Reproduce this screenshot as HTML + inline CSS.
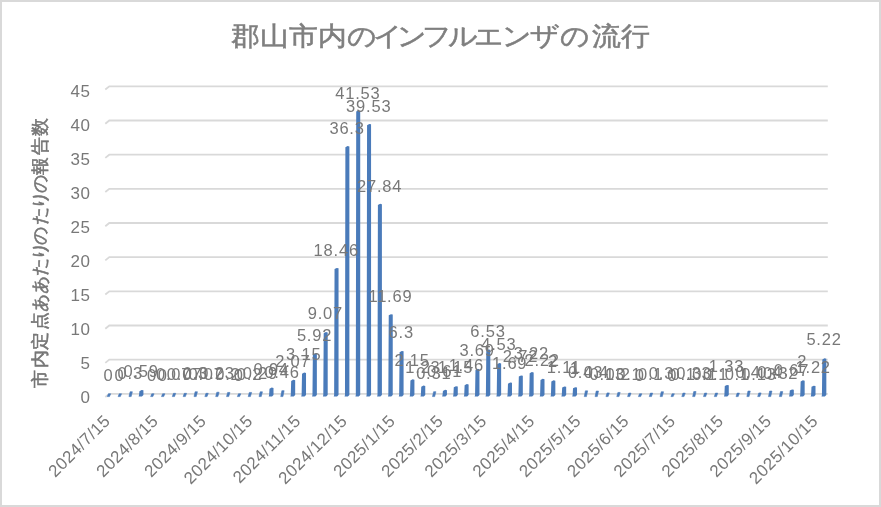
<!DOCTYPE html>
<html lang="ja"><head><meta charset="utf-8">
<style>
html,body{margin:0;padding:0;background:#fff;}
body{width:881px;height:507px;overflow:hidden;position:relative;font-family:"Liberation Sans",sans-serif;}
.frame{position:absolute;left:0;top:0;width:881px;height:507px;box-sizing:border-box;border:2px solid #d9d9d9;background:#fff;}
svg{position:absolute;left:0;top:0;will-change:transform;filter:blur(0.35px);}
.xl{font-family:"Liberation Sans",sans-serif;font-size:17px;fill:#787878;letter-spacing:0.4px;}
.ax{font-family:"Liberation Sans",sans-serif;font-size:17px;fill:#787878;letter-spacing:0.6px;}
.dl{font-family:"Liberation Sans",sans-serif;font-size:16.5px;fill:#787878;letter-spacing:0.8px;}
.title{font-family:"Liberation Sans",sans-serif;font-size:28.8px;fill:#7f7f7f;stroke:#7f7f7f;stroke-width:0.6px;}
.ytitle{font-family:"Liberation Sans",sans-serif;font-size:17.7px;fill:#787878;stroke:#707070;stroke-width:0.5px;}
</style></head>
<body><div class="frame"></div>
<svg width="881" height="507" viewBox="0 0 881 507">
<g transform="translate(0 45.00) scale(1 0.900)"><text x="245.4" y="0" text-anchor="middle" class="title">郡</text><text x="274.3" y="0" text-anchor="middle" class="title">山</text><text x="303.4" y="0" text-anchor="middle" class="title">市</text><text x="332.2" y="0" text-anchor="middle" class="title">内</text><text x="361.4" y="0" text-anchor="middle" class="title">の</text><text x="388.1" y="0" text-anchor="middle" class="title">イ</text><text x="411.7" y="0" text-anchor="middle" class="title">ン</text><text x="436.8" y="0" text-anchor="middle" class="title">フ</text><text x="462.6" y="0" text-anchor="middle" class="title">ル</text><text x="488.9" y="0" text-anchor="middle" class="title">エ</text><text x="516.4" y="0" text-anchor="middle" class="title">ン</text><text x="545" y="0" text-anchor="middle" class="title">ザ</text><text x="575.1" y="0" text-anchor="middle" class="title">の</text><text x="605.9" y="0" text-anchor="middle" class="title">流</text><text x="635" y="0" text-anchor="middle" class="title">行</text></g>
<text transform="translate(46 379) rotate(-90)" text-anchor="middle" class="ytitle">市</text><text transform="translate(46 359.3) rotate(-90)" text-anchor="middle" class="ytitle">内</text><text transform="translate(46 340.8) rotate(-90)" text-anchor="middle" class="ytitle">定</text><text transform="translate(46 321.3) rotate(-90)" text-anchor="middle" class="ytitle">点</text><text transform="translate(46 302.6) rotate(-90)" text-anchor="middle" class="ytitle">あ</text><text transform="translate(46 285) rotate(-90)" text-anchor="middle" class="ytitle">あ</text><text transform="translate(46 266.8) rotate(-90)" text-anchor="middle" class="ytitle">た</text><text transform="translate(46 250.9) rotate(-90)" text-anchor="middle" class="ytitle">り</text><text transform="translate(46 235.5) rotate(-90)" text-anchor="middle" class="ytitle">の</text><text transform="translate(46 215.8) rotate(-90)" text-anchor="middle" class="ytitle">た</text><text transform="translate(46 199.6) rotate(-90)" text-anchor="middle" class="ytitle">り</text><text transform="translate(46 183.9) rotate(-90)" text-anchor="middle" class="ytitle">の</text><text transform="translate(46 165.5) rotate(-90)" text-anchor="middle" class="ytitle">報</text><text transform="translate(46 146.2) rotate(-90)" text-anchor="middle" class="ytitle">告</text><text transform="translate(46 127.2) rotate(-90)" text-anchor="middle" class="ytitle">数</text>
<path d="M105.3 397.00 L109.3 393.80 L827.8 393.80" fill="none" stroke="#d9d9d9" stroke-width="1.8"/>
<path d="M105.3 362.84 L109.3 359.64 L827.8 359.64" fill="none" stroke="#d9d9d9" stroke-width="1.8"/>
<path d="M105.3 328.68 L109.3 325.48 L827.8 325.48" fill="none" stroke="#d9d9d9" stroke-width="1.8"/>
<path d="M105.3 294.52 L109.3 291.32 L827.8 291.32" fill="none" stroke="#d9d9d9" stroke-width="1.8"/>
<path d="M105.3 260.36 L109.3 257.16 L827.8 257.16" fill="none" stroke="#d9d9d9" stroke-width="1.8"/>
<path d="M105.3 226.20 L109.3 223.00 L827.8 223.00" fill="none" stroke="#d9d9d9" stroke-width="1.8"/>
<path d="M105.3 192.04 L109.3 188.84 L827.8 188.84" fill="none" stroke="#d9d9d9" stroke-width="1.8"/>
<path d="M105.3 157.88 L109.3 154.68 L827.8 154.68" fill="none" stroke="#d9d9d9" stroke-width="1.8"/>
<path d="M105.3 123.72 L109.3 120.52 L827.8 120.52" fill="none" stroke="#d9d9d9" stroke-width="1.8"/>
<path d="M105.3 89.56 L109.3 86.36 L827.8 86.36" fill="none" stroke="#d9d9d9" stroke-width="1.8"/>
<text x="90.6" y="403.00" text-anchor="end" class="ax">0</text>
<text x="90.6" y="369.00" text-anchor="end" class="ax">5</text>
<text x="90.6" y="335.00" text-anchor="end" class="ax">10</text>
<text x="90.6" y="301.00" text-anchor="end" class="ax">15</text>
<text x="90.6" y="267.00" text-anchor="end" class="ax">20</text>
<text x="90.6" y="233.00" text-anchor="end" class="ax">25</text>
<text x="90.6" y="199.00" text-anchor="end" class="ax">30</text>
<text x="90.6" y="165.00" text-anchor="end" class="ax">35</text>
<text x="90.6" y="131.00" text-anchor="end" class="ax">40</text>
<text x="90.6" y="97.00" text-anchor="end" class="ax">45</text>
<path d="M108.40 393.80 L110.70 393.80 L109.50 396.6 L107.30 396.6 Z" fill="#4a7bba" stroke="#4a7bba" stroke-width="0.6" stroke-linejoin="round"/>
<path d="M119.24 393.80 L121.54 393.80 L120.34 396.6 L118.14 396.6 Z" fill="#4a7bba" stroke="#4a7bba" stroke-width="0.6" stroke-linejoin="round"/>
<path d="M130.08 391.75 L132.38 391.75 L131.18 396.6 L128.98 396.6 Z" fill="#4a7bba" stroke="#4a7bba" stroke-width="0.6" stroke-linejoin="round"/>
<path d="M139.42 391.17 L141.62 389.97 L143.42 390.37 L143.42 395.10 L141.92 396.60 L138.62 396.60 L139.02 395.10 Z" fill="#4a7bba"/>
<path d="M151.76 393.80 L154.06 393.80 L152.86 396.6 L150.66 396.6 Z" fill="#4a7bba" stroke="#4a7bba" stroke-width="0.6" stroke-linejoin="round"/>
<path d="M162.60 393.80 L164.90 393.80 L163.70 396.6 L161.50 396.6 Z" fill="#4a7bba" stroke="#4a7bba" stroke-width="0.6" stroke-linejoin="round"/>
<path d="M173.44 393.32 L175.74 393.32 L174.54 396.6 L172.34 396.6 Z" fill="#4a7bba" stroke="#4a7bba" stroke-width="0.6" stroke-linejoin="round"/>
<path d="M184.28 393.32 L186.58 393.32 L185.38 396.6 L183.18 396.6 Z" fill="#4a7bba" stroke="#4a7bba" stroke-width="0.6" stroke-linejoin="round"/>
<path d="M195.12 391.75 L197.42 391.75 L196.22 396.6 L194.02 396.6 Z" fill="#4a7bba" stroke="#4a7bba" stroke-width="0.6" stroke-linejoin="round"/>
<path d="M205.96 393.32 L208.26 393.32 L207.06 396.6 L204.86 396.6 Z" fill="#4a7bba" stroke="#4a7bba" stroke-width="0.6" stroke-linejoin="round"/>
<path d="M216.80 392.23 L219.10 392.23 L217.90 396.6 L215.70 396.6 Z" fill="#4a7bba" stroke="#4a7bba" stroke-width="0.6" stroke-linejoin="round"/>
<path d="M227.64 392.43 L229.94 392.43 L228.74 396.6 L226.54 396.6 Z" fill="#4a7bba" stroke="#4a7bba" stroke-width="0.6" stroke-linejoin="round"/>
<path d="M238.48 393.80 L240.78 393.80 L239.58 396.6 L237.38 396.6 Z" fill="#4a7bba" stroke="#4a7bba" stroke-width="0.6" stroke-linejoin="round"/>
<path d="M249.32 392.43 L251.62 392.43 L250.42 396.6 L248.22 396.6 Z" fill="#4a7bba" stroke="#4a7bba" stroke-width="0.6" stroke-linejoin="round"/>
<path d="M260.16 391.82 L262.46 391.82 L261.26 396.6 L259.06 396.6 Z" fill="#4a7bba" stroke="#4a7bba" stroke-width="0.6" stroke-linejoin="round"/>
<path d="M269.50 388.78 L271.70 387.58 L273.50 387.98 L273.50 395.10 L272.00 396.60 L268.70 396.60 L269.10 395.10 Z" fill="#4a7bba"/>
<path d="M281.84 390.66 L284.14 390.66 L282.94 396.6 L280.74 396.6 Z" fill="#4a7bba" stroke="#4a7bba" stroke-width="0.6" stroke-linejoin="round"/>
<path d="M291.18 381.06 L293.38 379.86 L295.18 380.26 L295.18 395.10 L293.68 396.60 L290.38 396.60 L290.78 395.10 Z" fill="#4a7bba"/>
<path d="M302.02 373.68 L304.22 372.48 L306.02 372.88 L306.02 395.10 L304.52 396.60 L301.22 396.60 L301.62 395.10 Z" fill="#4a7bba"/>
<path d="M312.86 354.75 L315.06 353.55 L316.86 353.95 L316.86 395.10 L315.36 396.60 L312.06 396.60 L312.46 395.10 Z" fill="#4a7bba"/>
<path d="M323.70 333.23 L325.90 332.03 L327.70 332.43 L327.70 395.10 L326.20 396.60 L322.90 396.60 L323.30 395.10 Z" fill="#4a7bba"/>
<path d="M334.54 269.08 L336.74 267.88 L338.54 268.28 L338.54 395.10 L337.04 396.60 L333.74 396.60 L334.14 395.10 Z" fill="#4a7bba"/>
<path d="M345.38 147.20 L347.58 146.00 L349.38 146.40 L349.38 395.10 L347.88 396.60 L344.58 396.60 L344.98 395.10 Z" fill="#4a7bba"/>
<path d="M356.22 111.47 L358.42 110.27 L360.22 110.67 L360.22 395.10 L358.72 396.60 L355.42 396.60 L355.82 395.10 Z" fill="#4a7bba"/>
<path d="M367.06 125.13 L369.26 123.93 L371.06 124.33 L371.06 395.10 L369.56 396.60 L366.26 396.60 L366.66 395.10 Z" fill="#4a7bba"/>
<path d="M377.90 205.00 L380.10 203.80 L381.90 204.20 L381.90 395.10 L380.40 396.60 L377.10 396.60 L377.50 395.10 Z" fill="#4a7bba"/>
<path d="M388.74 315.33 L390.94 314.13 L392.74 314.53 L392.74 395.10 L391.24 396.60 L387.94 396.60 L388.34 395.10 Z" fill="#4a7bba"/>
<path d="M399.58 352.16 L401.78 350.96 L403.58 351.36 L403.58 395.10 L402.08 396.60 L398.78 396.60 L399.18 395.10 Z" fill="#4a7bba"/>
<path d="M410.42 380.51 L412.62 379.31 L414.42 379.71 L414.42 395.10 L412.92 396.60 L409.62 396.60 L410.02 395.10 Z" fill="#4a7bba"/>
<path d="M421.26 386.80 L423.46 385.60 L425.26 386.00 L425.26 395.10 L423.76 396.60 L420.46 396.60 L420.86 395.10 Z" fill="#4a7bba"/>
<path d="M433.60 391.68 L435.90 391.68 L434.70 396.6 L432.50 396.6 Z" fill="#4a7bba" stroke="#4a7bba" stroke-width="0.6" stroke-linejoin="round"/>
<path d="M442.94 391.03 L445.14 389.83 L446.94 390.23 L446.94 395.10 L445.44 396.60 L442.14 396.60 L442.54 395.10 Z" fill="#4a7bba"/>
<path d="M453.78 387.34 L455.98 386.14 L457.78 386.54 L457.78 395.10 L456.28 396.60 L452.98 396.60 L453.38 395.10 Z" fill="#4a7bba"/>
<path d="M464.62 385.23 L466.82 384.03 L468.62 384.43 L468.62 395.10 L467.12 396.60 L463.82 396.60 L464.22 395.10 Z" fill="#4a7bba"/>
<path d="M475.46 369.99 L477.66 368.79 L479.46 369.19 L479.46 395.10 L477.96 396.60 L474.66 396.60 L475.06 395.10 Z" fill="#4a7bba"/>
<path d="M486.30 350.59 L488.50 349.39 L490.30 349.79 L490.30 395.10 L488.80 396.60 L485.50 396.60 L485.90 395.10 Z" fill="#4a7bba"/>
<path d="M497.14 364.25 L499.34 363.05 L501.14 363.45 L501.14 395.10 L499.64 396.60 L496.34 396.60 L496.74 395.10 Z" fill="#4a7bba"/>
<path d="M507.98 383.65 L510.18 382.45 L511.98 382.85 L511.98 395.10 L510.48 396.60 L507.18 396.60 L507.58 395.10 Z" fill="#4a7bba"/>
<path d="M518.82 376.62 L521.02 375.42 L522.82 375.82 L522.82 395.10 L521.32 396.60 L518.02 396.60 L518.42 395.10 Z" fill="#4a7bba"/>
<path d="M529.66 373.20 L531.86 372.00 L533.66 372.40 L533.66 395.10 L532.16 396.60 L528.86 396.60 L529.26 395.10 Z" fill="#4a7bba"/>
<path d="M540.50 380.03 L542.70 378.83 L544.50 379.23 L544.50 395.10 L543.00 396.60 L539.70 396.60 L540.10 395.10 Z" fill="#4a7bba"/>
<path d="M551.34 381.54 L553.54 380.34 L555.34 380.74 L555.34 395.10 L553.84 396.60 L550.54 396.60 L550.94 395.10 Z" fill="#4a7bba"/>
<path d="M562.18 387.62 L564.38 386.42 L566.18 386.82 L566.18 395.10 L564.68 396.60 L561.38 396.60 L561.78 395.10 Z" fill="#4a7bba"/>
<path d="M573.02 388.37 L575.22 387.17 L577.02 387.57 L577.02 395.10 L575.52 396.60 L572.22 396.60 L572.62 395.10 Z" fill="#4a7bba"/>
<path d="M585.36 390.86 L587.66 390.86 L586.46 396.6 L584.26 396.6 Z" fill="#4a7bba" stroke="#4a7bba" stroke-width="0.6" stroke-linejoin="round"/>
<path d="M596.20 391.07 L598.50 391.07 L597.30 396.6 L595.10 396.6 Z" fill="#4a7bba" stroke="#4a7bba" stroke-width="0.6" stroke-linejoin="round"/>
<path d="M607.04 392.91 L609.34 392.91 L608.14 396.6 L605.94 396.6 Z" fill="#4a7bba" stroke="#4a7bba" stroke-width="0.6" stroke-linejoin="round"/>
<path d="M617.88 392.43 L620.18 392.43 L618.98 396.6 L616.78 396.6 Z" fill="#4a7bba" stroke="#4a7bba" stroke-width="0.6" stroke-linejoin="round"/>
<path d="M628.72 393.12 L631.02 393.12 L629.82 396.6 L627.62 396.6 Z" fill="#4a7bba" stroke="#4a7bba" stroke-width="0.6" stroke-linejoin="round"/>
<path d="M639.56 393.80 L641.86 393.80 L640.66 396.6 L638.46 396.6 Z" fill="#4a7bba" stroke="#4a7bba" stroke-width="0.6" stroke-linejoin="round"/>
<path d="M650.40 393.12 L652.70 393.12 L651.50 396.6 L649.30 396.6 Z" fill="#4a7bba" stroke="#4a7bba" stroke-width="0.6" stroke-linejoin="round"/>
<path d="M661.24 391.75 L663.54 391.75 L662.34 396.6 L660.14 396.6 Z" fill="#4a7bba" stroke="#4a7bba" stroke-width="0.6" stroke-linejoin="round"/>
<path d="M672.08 393.80 L674.38 393.80 L673.18 396.6 L670.98 396.6 Z" fill="#4a7bba" stroke="#4a7bba" stroke-width="0.6" stroke-linejoin="round"/>
<path d="M682.92 393.12 L685.22 393.12 L684.02 396.6 L681.82 396.6 Z" fill="#4a7bba" stroke="#4a7bba" stroke-width="0.6" stroke-linejoin="round"/>
<path d="M693.76 391.55 L696.06 391.55 L694.86 396.6 L692.66 396.6 Z" fill="#4a7bba" stroke="#4a7bba" stroke-width="0.6" stroke-linejoin="round"/>
<path d="M704.60 393.12 L706.90 393.12 L705.70 396.6 L703.50 396.6 Z" fill="#4a7bba" stroke="#4a7bba" stroke-width="0.6" stroke-linejoin="round"/>
<path d="M715.44 393.12 L717.74 393.12 L716.54 396.6 L714.34 396.6 Z" fill="#4a7bba" stroke="#4a7bba" stroke-width="0.6" stroke-linejoin="round"/>
<path d="M724.78 386.11 L726.98 384.91 L728.78 385.31 L728.78 395.10 L727.28 396.60 L723.98 396.60 L724.38 395.10 Z" fill="#4a7bba"/>
<path d="M737.12 393.12 L739.42 393.12 L738.22 396.6 L736.02 396.6 Z" fill="#4a7bba" stroke="#4a7bba" stroke-width="0.6" stroke-linejoin="round"/>
<path d="M747.96 391.07 L750.26 391.07 L749.06 396.6 L746.86 396.6 Z" fill="#4a7bba" stroke="#4a7bba" stroke-width="0.6" stroke-linejoin="round"/>
<path d="M758.80 392.91 L761.10 392.91 L759.90 396.6 L757.70 396.6 Z" fill="#4a7bba" stroke="#4a7bba" stroke-width="0.6" stroke-linejoin="round"/>
<path d="M769.64 391.07 L771.94 391.07 L770.74 396.6 L768.54 396.6 Z" fill="#4a7bba" stroke="#4a7bba" stroke-width="0.6" stroke-linejoin="round"/>
<path d="M780.48 391.61 L782.78 391.61 L781.58 396.6 L779.38 396.6 Z" fill="#4a7bba" stroke="#4a7bba" stroke-width="0.6" stroke-linejoin="round"/>
<path d="M789.82 390.62 L792.02 389.42 L793.82 389.82 L793.82 395.10 L792.32 396.60 L789.02 396.60 L789.42 395.10 Z" fill="#4a7bba"/>
<path d="M800.66 381.54 L802.86 380.34 L804.66 380.74 L804.66 395.10 L803.16 396.60 L799.86 396.60 L800.26 395.10 Z" fill="#4a7bba"/>
<path d="M811.50 386.86 L813.70 385.66 L815.50 386.06 L815.50 395.10 L814.00 396.60 L810.70 396.60 L811.10 395.10 Z" fill="#4a7bba"/>
<path d="M822.34 359.54 L824.54 358.34 L826.34 358.74 L826.34 395.10 L824.84 396.60 L821.54 396.60 L821.94 395.10 Z" fill="#4a7bba"/>
<text x="108.60" y="380.90" text-anchor="middle" class="dl">0</text>
<text x="119.44" y="380.90" text-anchor="middle" class="dl">0</text>
<text x="130.28" y="378.86" text-anchor="middle" class="dl">0.3</text>
<text x="141.12" y="376.89" text-anchor="middle" class="dl">0.59</text>
<text x="151.96" y="380.90" text-anchor="middle" class="dl">0</text>
<text x="162.80" y="380.90" text-anchor="middle" class="dl">0</text>
<text x="173.64" y="380.42" text-anchor="middle" class="dl">0.07</text>
<text x="184.48" y="380.42" text-anchor="middle" class="dl">0.07</text>
<text x="195.32" y="378.86" text-anchor="middle" class="dl">0.3</text>
<text x="206.16" y="380.42" text-anchor="middle" class="dl">0.07</text>
<text x="217.00" y="379.34" text-anchor="middle" class="dl">0.23</text>
<text x="227.84" y="379.54" text-anchor="middle" class="dl">0.2</text>
<text x="238.68" y="380.90" text-anchor="middle" class="dl">0</text>
<text x="249.52" y="379.54" text-anchor="middle" class="dl">0.2</text>
<text x="260.36" y="378.93" text-anchor="middle" class="dl">0.29</text>
<text x="271.20" y="374.52" text-anchor="middle" class="dl">0.94</text>
<text x="282.04" y="377.78" text-anchor="middle" class="dl">0.46</text>
<text x="292.88" y="366.84" text-anchor="middle" class="dl">2.07</text>
<text x="303.72" y="359.51" text-anchor="middle" class="dl">3.15</text>
<text x="314.56" y="340.70" text-anchor="middle" class="dl">5.92</text>
<text x="325.40" y="319.31" text-anchor="middle" class="dl">9.07</text>
<text x="336.24" y="255.56" text-anchor="middle" class="dl">18.46</text>
<text x="347.08" y="134.42" text-anchor="middle" class="dl">36.3</text>
<text x="357.92" y="98.91" text-anchor="middle" class="dl">41.53</text>
<text x="368.76" y="112.49" text-anchor="middle" class="dl">39.53</text>
<text x="379.60" y="191.87" text-anchor="middle" class="dl">27.84</text>
<text x="390.44" y="301.52" text-anchor="middle" class="dl">11.69</text>
<text x="401.28" y="338.12" text-anchor="middle" class="dl">6.3</text>
<text x="412.12" y="366.30" text-anchor="middle" class="dl">2.15</text>
<text x="422.96" y="372.55" text-anchor="middle" class="dl">1.23</text>
<text x="433.80" y="378.80" text-anchor="middle" class="dl">0.31</text>
<text x="444.64" y="376.76" text-anchor="middle" class="dl">0.61</text>
<text x="455.48" y="373.09" text-anchor="middle" class="dl">1.15</text>
<text x="466.32" y="370.99" text-anchor="middle" class="dl">1.46</text>
<text x="477.16" y="355.84" text-anchor="middle" class="dl">3.69</text>
<text x="488.00" y="336.56" text-anchor="middle" class="dl">6.53</text>
<text x="498.84" y="350.14" text-anchor="middle" class="dl">4.53</text>
<text x="509.68" y="369.42" text-anchor="middle" class="dl">1.69</text>
<text x="520.52" y="362.43" text-anchor="middle" class="dl">2.72</text>
<text x="531.36" y="359.04" text-anchor="middle" class="dl">3.22</text>
<text x="542.20" y="365.83" text-anchor="middle" class="dl">2.22</text>
<text x="553.04" y="367.32" text-anchor="middle" class="dl">2</text>
<text x="563.88" y="373.36" text-anchor="middle" class="dl">1.11</text>
<text x="574.72" y="374.11" text-anchor="middle" class="dl">1</text>
<text x="585.56" y="377.98" text-anchor="middle" class="dl">0.43</text>
<text x="596.40" y="378.18" text-anchor="middle" class="dl">0.4</text>
<text x="607.24" y="380.02" text-anchor="middle" class="dl">0.13</text>
<text x="618.08" y="379.54" text-anchor="middle" class="dl">0.2</text>
<text x="628.92" y="380.22" text-anchor="middle" class="dl">0.1</text>
<text x="639.76" y="380.90" text-anchor="middle" class="dl">0</text>
<text x="650.60" y="380.22" text-anchor="middle" class="dl">0.1</text>
<text x="661.44" y="378.86" text-anchor="middle" class="dl">0.3</text>
<text x="672.28" y="380.90" text-anchor="middle" class="dl">0</text>
<text x="683.12" y="380.22" text-anchor="middle" class="dl">0.1</text>
<text x="693.96" y="378.66" text-anchor="middle" class="dl">0.33</text>
<text x="704.80" y="380.22" text-anchor="middle" class="dl">0.1</text>
<text x="715.64" y="380.22" text-anchor="middle" class="dl">0.1</text>
<text x="726.48" y="371.87" text-anchor="middle" class="dl">1.33</text>
<text x="737.32" y="380.22" text-anchor="middle" class="dl">0.1</text>
<text x="748.16" y="378.18" text-anchor="middle" class="dl">0.4</text>
<text x="759.00" y="380.02" text-anchor="middle" class="dl">0.13</text>
<text x="769.84" y="378.18" text-anchor="middle" class="dl">0.4</text>
<text x="780.68" y="378.73" text-anchor="middle" class="dl">0.32</text>
<text x="791.52" y="376.35" text-anchor="middle" class="dl">0.67</text>
<text x="802.36" y="367.32" text-anchor="middle" class="dl">2</text>
<text x="813.20" y="372.62" text-anchor="middle" class="dl">1.22</text>
<text x="824.04" y="345.46" text-anchor="middle" class="dl">5.22</text>
<text transform="translate(111.30 422.00) rotate(-45)" text-anchor="end" class="xl">2024/7/15</text>
<text transform="translate(159.31 422.00) rotate(-45)" text-anchor="end" class="xl">2024/8/15</text>
<text transform="translate(207.31 422.00) rotate(-45)" text-anchor="end" class="xl">2024/9/15</text>
<text transform="translate(253.77 422.00) rotate(-45)" text-anchor="end" class="xl">2024/10/15</text>
<text transform="translate(301.77 422.00) rotate(-45)" text-anchor="end" class="xl">2024/11/15</text>
<text transform="translate(348.23 422.00) rotate(-45)" text-anchor="end" class="xl">2024/12/15</text>
<text transform="translate(396.24 422.00) rotate(-45)" text-anchor="end" class="xl">2025/1/15</text>
<text transform="translate(444.24 422.00) rotate(-45)" text-anchor="end" class="xl">2025/2/15</text>
<text transform="translate(487.60 422.00) rotate(-45)" text-anchor="end" class="xl">2025/3/15</text>
<text transform="translate(535.61 422.00) rotate(-45)" text-anchor="end" class="xl">2025/4/15</text>
<text transform="translate(582.07 422.00) rotate(-45)" text-anchor="end" class="xl">2025/5/15</text>
<text transform="translate(630.07 422.00) rotate(-45)" text-anchor="end" class="xl">2025/6/15</text>
<text transform="translate(676.53 422.00) rotate(-45)" text-anchor="end" class="xl">2025/7/15</text>
<text transform="translate(724.53 422.00) rotate(-45)" text-anchor="end" class="xl">2025/8/15</text>
<text transform="translate(772.54 422.00) rotate(-45)" text-anchor="end" class="xl">2025/9/15</text>
<text transform="translate(819.00 422.00) rotate(-45)" text-anchor="end" class="xl">2025/10/15</text>
</svg>
</body></html>
